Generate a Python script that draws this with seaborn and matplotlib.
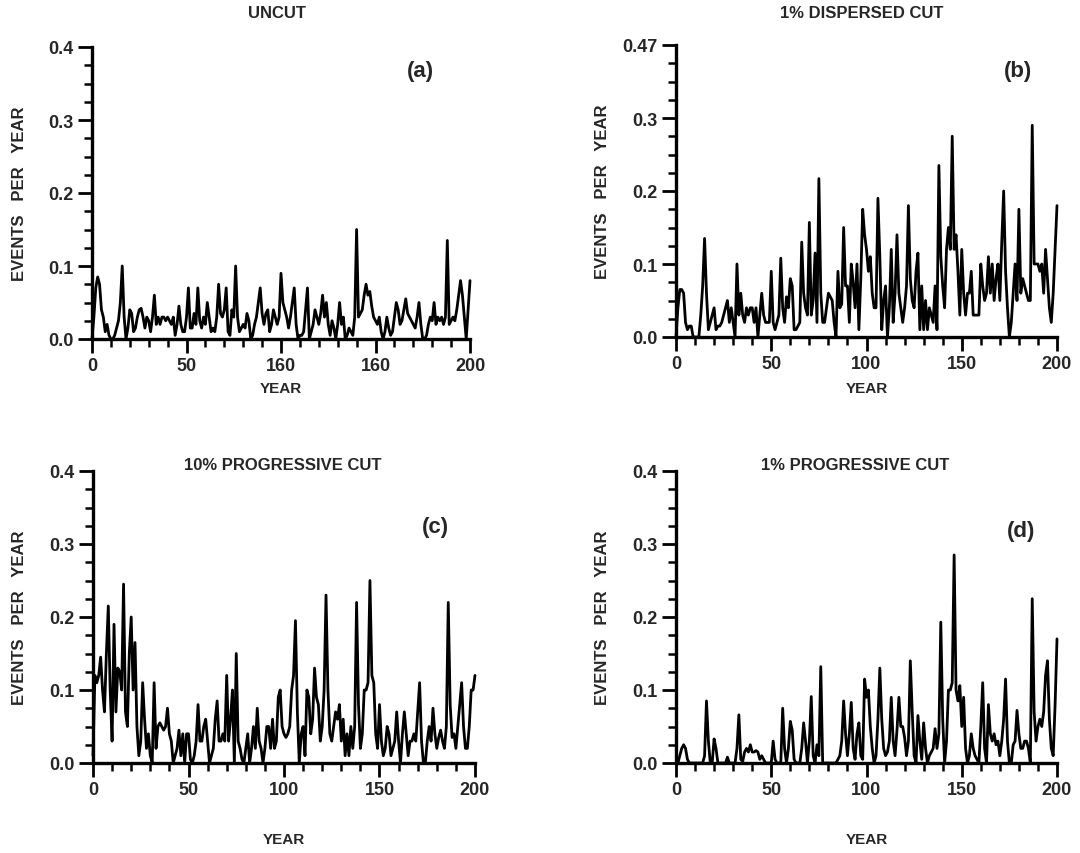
import numpy as np
import pandas as pd
import matplotlib
matplotlib.use("Agg")
import matplotlib.pyplot as plt
import seaborn as sns
from matplotlib.ticker import MultipleLocator, FixedLocator

# ---------------- data ----------------
years = list(range(0, 201))

uncut = [
    0.0, 0.03, 0.07, 0.085, 0.075, 0.04, 0.03, 0.01, 0.02, 0.005,
    0.0, 0.0, 0.005, 0.015, 0.025, 0.05, 0.1, 0.03, 0.0, 0.015,
    0.04, 0.035, 0.01, 0.015, 0.03, 0.04, 0.042, 0.03, 0.015, 0.03,
    0.025, 0.01, 0.03, 0.06, 0.02, 0.03, 0.02, 0.03, 0.03, 0.025,
    0.03, 0.025, 0.02, 0.03, 0.005, 0.02, 0.045, 0.02, 0.01, 0.01,
    0.03, 0.07, 0.015, 0.015, 0.035, 0.02, 0.07, 0.025, 0.015, 0.03,
    0.02, 0.05, 0.03, 0.01, 0.015, 0.01, 0.03, 0.075, 0.035, 0.03,
    0.04, 0.07, 0.01, 0.005, 0.04, 0.03, 0.1, 0.03, 0.01, 0.015,
    0.02, 0.015, 0.035, 0.025, 0.0, 0.005, 0.02, 0.03, 0.05, 0.07,
    0.035, 0.02, 0.035, 0.04, 0.01, 0.02, 0.04, 0.03, 0.02, 0.03,
    0.09, 0.05, 0.04, 0.03, 0.015, 0.03, 0.05, 0.07, 0.02, 0.0,
    0.005, 0.005, 0.01, 0.04, 0.07, 0.0, 0.01, 0.02, 0.04, 0.03,
    0.02, 0.035, 0.06, 0.03, 0.05, 0.02, 0.005, 0.025, 0.015, 0.0,
    0.02, 0.05, 0.02, 0.03, 0.0, 0.005, 0.015, 0.01, 0.005, 0.03,
    0.15, 0.03, 0.035, 0.04, 0.06, 0.075, 0.06, 0.065, 0.045, 0.03,
    0.025, 0.02, 0.03, 0.01, 0.0, 0.01, 0.03, 0.015, 0.005, 0.01,
    0.03, 0.05, 0.04, 0.02, 0.025, 0.04, 0.055, 0.035, 0.03, 0.025,
    0.02, 0.015, 0.03, 0.05, 0.02, 0.0, 0.0, 0.005, 0.02, 0.03,
    0.025, 0.05, 0.02, 0.03, 0.025, 0.03, 0.02, 0.03, 0.135, 0.02,
    0.025, 0.03, 0.025, 0.04, 0.06, 0.08, 0.06, 0.03, 0.0, 0.04,
    0.08,
]

dispersed_1pct = [
    0.0, 0.04, 0.065, 0.065, 0.06, 0.02, 0.01, 0.015, 0.015, 0.0,
    0.0, 0.0, 0.0, 0.03, 0.07, 0.135, 0.06, 0.01, 0.02, 0.03,
    0.04, 0.01, 0.015, 0.015, 0.02, 0.03, 0.04, 0.05, 0.02, 0.04,
    0.02, 0.0, 0.1, 0.03, 0.06, 0.03, 0.02, 0.04, 0.03, 0.04,
    0.04, 0.02, 0.04, 0.0, 0.03, 0.06, 0.03, 0.02, 0.02, 0.02,
    0.09, 0.02, 0.01, 0.02, 0.03, 0.108, 0.04, 0.02, 0.055, 0.04,
    0.08, 0.07, 0.01, 0.01, 0.015, 0.02, 0.13, 0.06, 0.04, 0.03,
    0.157, 0.03, 0.05, 0.115, 0.02, 0.217, 0.06, 0.02, 0.02, 0.04,
    0.06, 0.055, 0.05, 0.02, 0.0, 0.09, 0.04, 0.045, 0.15, 0.07,
    0.07, 0.02, 0.1, 0.075, 0.04, 0.1, 0.01, 0.08, 0.175, 0.14,
    0.12, 0.09, 0.11, 0.06, 0.04, 0.04, 0.19, 0.11, 0.01, 0.05,
    0.07, 0.0, 0.04, 0.12, 0.02, 0.06, 0.14, 0.06, 0.04, 0.02,
    0.04, 0.07, 0.18, 0.08, 0.05, 0.04, 0.09, 0.115, 0.01, 0.07,
    0.01, 0.05, 0.01, 0.04, 0.03, 0.02, 0.07, 0.01, 0.235, 0.11,
    0.07, 0.04, 0.12, 0.15, 0.12, 0.275, 0.12, 0.14, 0.09, 0.03,
    0.12, 0.06, 0.03, 0.06, 0.06, 0.09, 0.03, 0.03, 0.03, 0.03,
    0.1, 0.07, 0.05, 0.06, 0.11, 0.06, 0.1, 0.05, 0.08, 0.1,
    0.05, 0.13, 0.2, 0.09, 0.04, 0.0, 0.02, 0.06, 0.1, 0.05,
    0.175, 0.06, 0.08, 0.07, 0.06, 0.05, 0.05, 0.29, 0.1, 0.1,
    0.1, 0.09, 0.1, 0.06, 0.12, 0.08, 0.04, 0.02, 0.06, 0.12,
    0.18,
]

progressive_10pct = [
    0.01, 0.12, 0.11, 0.12, 0.145, 0.1, 0.07, 0.15, 0.215, 0.1,
    0.03, 0.19, 0.07, 0.13, 0.125, 0.1, 0.245, 0.07, 0.05, 0.15,
    0.2, 0.1, 0.165, 0.05, 0.01, 0.03, 0.11, 0.06, 0.02, 0.04,
    0.01, 0.0, 0.11, 0.02, 0.05, 0.055, 0.05, 0.045, 0.05, 0.075,
    0.04, 0.03, 0.0, 0.01, 0.02, 0.045, 0.01, 0.04, 0.0, 0.04,
    0.04, 0.005, 0.0, 0.01, 0.03, 0.08, 0.03, 0.03, 0.05, 0.06,
    0.03, 0.0, 0.01, 0.02, 0.06, 0.085, 0.03, 0.03, 0.04, 0.03,
    0.12, 0.03, 0.06, 0.1, 0.0, 0.15, 0.03, 0.02, 0.005, 0.0,
    0.02, 0.04, 0.0, 0.02, 0.05, 0.02, 0.075, 0.03, 0.02, 0.0,
    0.02, 0.05, 0.05, 0.02, 0.06, 0.02, 0.03, 0.09, 0.1, 0.05,
    0.04, 0.035, 0.04, 0.05, 0.1, 0.12, 0.195, 0.07, 0.0, 0.04,
    0.05, 0.01, 0.1, 0.09, 0.04, 0.06, 0.13, 0.09, 0.08, 0.03,
    0.05, 0.1, 0.23, 0.1, 0.04, 0.03, 0.05, 0.07, 0.06, 0.08,
    0.03, 0.06, 0.01, 0.04, 0.01, 0.05, 0.02, 0.05, 0.22, 0.08,
    0.02, 0.04, 0.1, 0.1, 0.11, 0.25, 0.12, 0.11, 0.04, 0.02,
    0.08, 0.03, 0.01, 0.02, 0.05, 0.04, 0.01, 0.02, 0.03, 0.07,
    0.03, 0.0, 0.04, 0.07, 0.04, 0.01, 0.03, 0.03, 0.04, 0.03,
    0.07, 0.11, 0.03, 0.0, 0.0, 0.03, 0.05, 0.03, 0.075, 0.04,
    0.02, 0.035, 0.045, 0.03, 0.02, 0.05, 0.22, 0.08, 0.035, 0.04,
    0.02, 0.05, 0.08, 0.11, 0.05, 0.02, 0.02, 0.05, 0.1, 0.1,
    0.12,
]

progressive_1pct = [
    0.0, 0.0, 0.01, 0.02, 0.025, 0.02, 0.005, 0.0, 0.0, 0.0,
    0.0, 0.0, 0.0, 0.0, 0.0, 0.01, 0.085, 0.03, 0.0, 0.0,
    0.033, 0.02, 0.0, 0.0, 0.0, 0.0, 0.0, 0.008, 0.0, 0.0,
    0.0, 0.0, 0.02, 0.066, 0.005, 0.002, 0.015, 0.02, 0.015, 0.025,
    0.015, 0.015, 0.017, 0.015, 0.005, 0.01, 0.005, 0.0, 0.0, 0.0,
    0.0, 0.03, 0.005, 0.0, 0.0, 0.0, 0.075, 0.02, 0.0, 0.02,
    0.057, 0.045, 0.005, 0.0, 0.0, 0.0, 0.02, 0.055, 0.03, 0.0,
    0.03, 0.091, 0.01, 0.0, 0.025, 0.01, 0.132, 0.0, 0.0, 0.0,
    0.0, 0.0, 0.0, 0.0, 0.0, 0.005, 0.01, 0.03, 0.085, 0.04,
    0.01, 0.04, 0.083, 0.02, 0.005, 0.04, 0.055, 0.01, 0.005, 0.115,
    0.09, 0.1, 0.05, 0.02, 0.0, 0.01, 0.06, 0.13, 0.06, 0.02,
    0.01, 0.015, 0.03, 0.09, 0.03, 0.01, 0.045, 0.09, 0.05, 0.05,
    0.035, 0.01, 0.03, 0.14, 0.07, 0.01, 0.0, 0.065, 0.03, 0.005,
    0.055, 0.02, 0.0, 0.01, 0.015, 0.02, 0.047, 0.02, 0.04, 0.193,
    0.06, 0.0, 0.03, 0.1, 0.1, 0.11, 0.285, 0.1, 0.085, 0.106,
    0.05, 0.09, 0.02, 0.0, 0.01, 0.04, 0.02, 0.01, 0.005, 0.0,
    0.05, 0.11, 0.02, 0.0, 0.08, 0.04, 0.03, 0.04, 0.025, 0.03,
    0.01, 0.03, 0.06, 0.115, 0.03, 0.0, 0.0, 0.025, 0.03, 0.072,
    0.04, 0.02, 0.02, 0.03, 0.03, 0.02, 0.0, 0.225, 0.07, 0.03,
    0.05, 0.06, 0.05, 0.07, 0.12, 0.14, 0.06, 0.02, 0.01, 0.08,
    0.17,
]

panel_titles = ["UNCUT", "1% DISPERSED CUT", "10% PROGRESSIVE CUT", "1% PROGRESSIVE CUT"]
panel_letters = ["(a)", "(b)", "(c)", "(d)"]
x_tick_values = [0, 50, 100, 150, 200]
x_tick_labels_a = ["0", "50", "160", "160", "200"]
x_tick_labels = ["0", "50", "100", "150", "200"]
y_tick_values = [0.0, 0.1, 0.2, 0.3, 0.4]
y_tick_labels_a = ["0.0", "0.1", "0.2", "0.3", "0.4"]
y_tick_labels_b = ["0.0", "0.1", "0.2", "0.3", "0.47"]
y_tick_labels = ["0.0", "0.1", "0.2", "0.3", "0.4"]
y_label = "EVENTS   PER   YEAR"
x_label = "YEAR"

# ---------------- figure ----------------
sns.set_theme(style="ticks")
plt.rcParams["font.family"] = ["Liberation Sans", "DejaVu Sans"]
plt.rcParams["font.weight"] = "bold"

W, H = 1080, 854
fig = plt.figure(figsize=(W / 100, H / 100), dpi=100)


def px_axes(left, right, y0, ytop):
    return fig.add_axes([left / W, (H - y0) / H, (right - left) / W, (y0 - ytop) / H])


panels = [
    dict(series=uncut, box=(92, 470, 340, 48), xl=x_tick_labels_a, yl=y_tick_labels_a,
         title_xy=(277, 14), letter_xy=(420, 72), xlab_y=389, ylab_x=20),
    dict(series=dispersed_1pct, box=(676, 1057, 338, 46), xl=x_tick_labels, yl=y_tick_labels_b,
         title_xy=(862, 14), letter_xy=(1018, 72), xlab_y=389, ylab_x=602),
    dict(series=progressive_10pct, box=(93, 475, 764, 472), xl=x_tick_labels, yl=y_tick_labels,
         title_xy=(283, 466), letter_xy=(435, 528), xlab_y=840, ylab_x=20),
    dict(series=progressive_1pct, box=(676, 1057, 764, 472), xl=x_tick_labels, yl=y_tick_labels,
         title_xy=(855, 466), letter_xy=(1021, 531), xlab_y=840, ylab_x=602),
]

for i, p in enumerate(panels):
    left, right, y0, ytop = p["box"]
    ax = px_axes(left, right, y0, ytop)
    df = pd.DataFrame({"year": years, "value": p["series"]})
    sns.lineplot(data=df, x="year", y="value", ax=ax, color="black",
                 linewidth=2.0, estimator=None, clip_on=False)
    ax.set_xlim(0, 200)
    ax.set_ylim(0, 0.4)
    sns.despine(ax=ax)
    for s in ("left", "bottom"):
        ax.spines[s].set_linewidth(2.4)
        ax.spines[s].set_color("black")
    ax.xaxis.set_major_locator(FixedLocator(x_tick_values))
    ax.xaxis.set_minor_locator(MultipleLocator(10))
    ax.yaxis.set_major_locator(FixedLocator(y_tick_values))
    ax.yaxis.set_minor_locator(MultipleLocator(0.025))
    ax.set_xticklabels(p["xl"], fontsize=13, fontweight="bold")
    ax.set_yticklabels(p["yl"], fontsize=13, fontweight="bold")
    ax.tick_params(axis="both", which="major", direction="out", length=10, width=2,
                   color="black", pad=3)
    ax.tick_params(axis="both", which="minor", direction="out", length=6, width=1.8,
                   color="black")
    ax.set_xlabel("")
    ax.set_ylabel("")
    ax.set_facecolor("white")

    yc = (y0 + ytop) / 2
    fig.text(p["ylab_x"] / W, 1 - yc / H, y_label, rotation=90, ha="center", va="center",
             fontsize=12, fontweight="bold")
    fig.text((left + right) / 2 / W, 1 - p["xlab_y"] / H, x_label, ha="center", va="center",
             fontsize=11, fontweight="bold")
    tx, ty = p["title_xy"]
    fig.text(tx / W, 1 - ty / H, panel_titles[i], ha="center", va="center",
             fontsize=12, fontweight="bold")
    lx, ly = p["letter_xy"]
    fig.text(lx / W, 1 - ly / H, panel_letters[i], ha="center", va="center",
             fontsize=16, fontweight="bold")

fig.savefig("out.png", dpi=100, facecolor="white")
